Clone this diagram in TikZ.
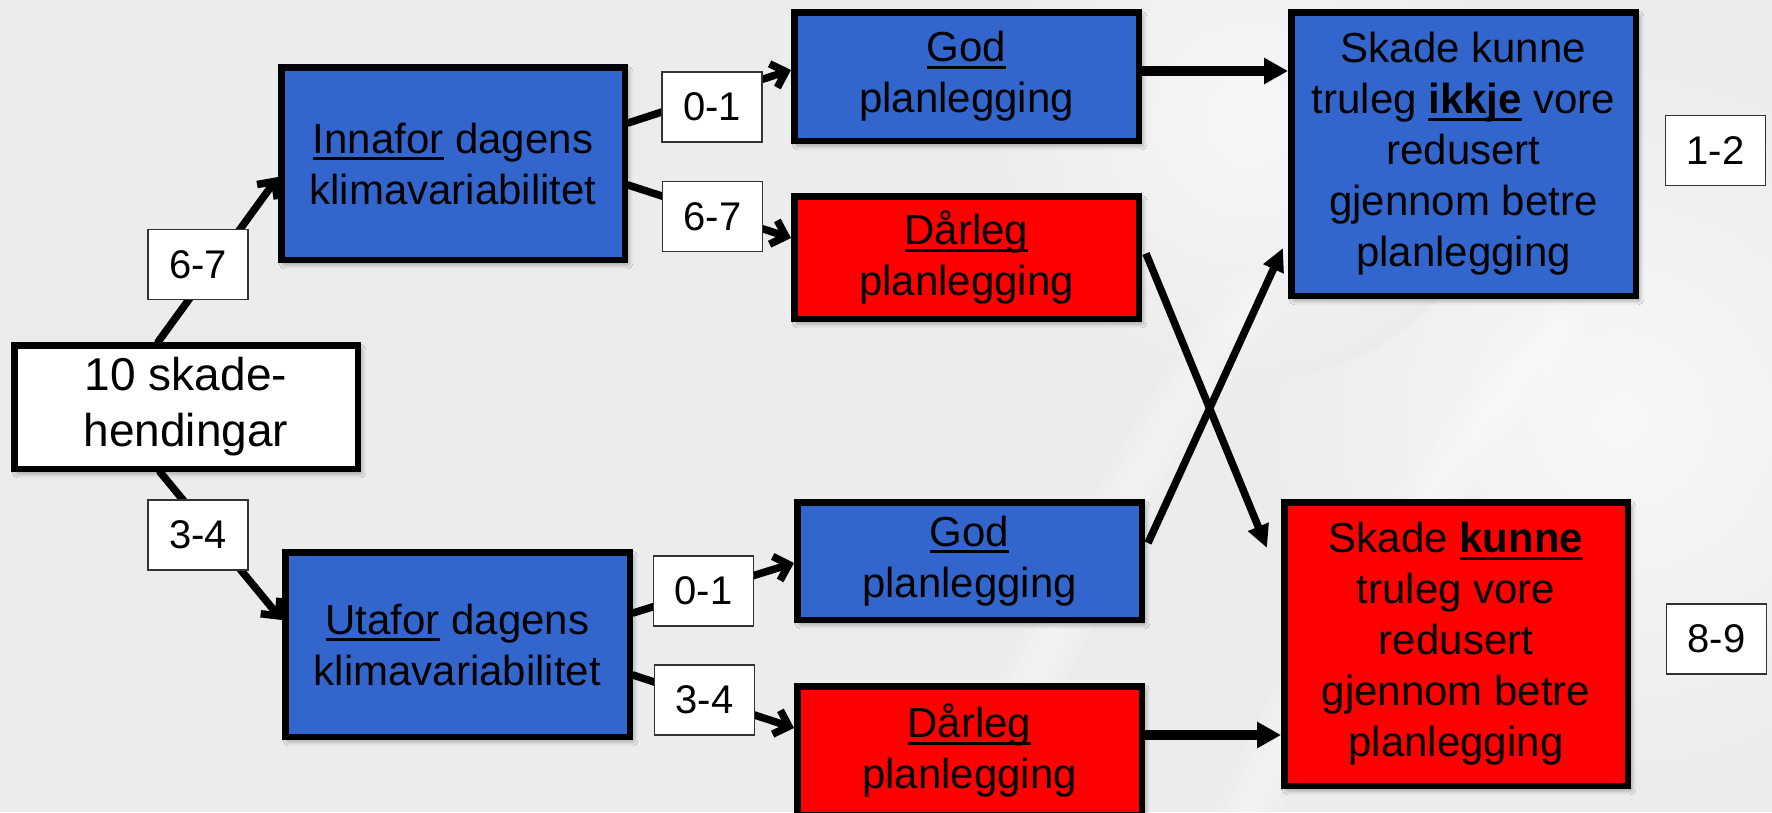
\documentclass[tikz,border=0pt]{standalone}
\usepackage{fontspec}
\setmainfont{Liberation Sans}
\usetikzlibrary{arrows.meta,calc,shadows.blur}

\definecolor{bg}{RGB}{236,236,236}
\definecolor{boxblue}{RGB}{51,102,204}
\definecolor{boxred}{RGB}{255,0,0}

% underline drawn through the descenders, as in presentation software
\newlength\ulwidth
\newcommand\ulword[1]{\settowidth\ulwidth{#1}\rlap{\rule[-7pt]{\ulwidth}{3pt}}#1}

\tikzset{
  box/.style={draw=black, line width=6.5pt, inner sep=0pt, align=center, text=black,
    font=\fontsize{42}{51}\selectfont,
    blur shadow={shadow xshift=3pt, shadow yshift=-4pt, shadow blur radius=5pt, shadow opacity=45}},
  bluebox/.style={box, fill=boxblue},
  redbox/.style={box, fill=boxred},
  count/.style={draw=black!80, line width=1.8pt, fill=white, inner sep=0pt,
    minimum width=100pt, minimum height=70pt, font=\fontsize{40}{48}\selectfont},
  branch/.style={line width=7.5pt, line cap=round, -{Straight Barb[length=13pt,width=25pt]}},
  cross/.style={line width=7.5pt, -{Triangle[length=23pt,width=21pt]}},
  thickarrow/.style={line width=9.5pt, -{Triangle[length=24pt,width=25pt]}},
  streak/.style={white, line cap=round, opacity=0.12},
}

\begin{document}
\begin{tikzpicture}[x=1pt, y=-1pt]
\useasboundingbox (0,0) rectangle (1772,812);
\clip (0,0) rectangle (1772,812);

% background with faint, soft light streaks
\fill[bg] (0,0) rectangle (1772,812);
\shade[inner color=white!60!bg, outer color=bg] (1620,420) circle (360pt);
\shade[inner color=white!55!bg, outer color=bg] (1250,120) circle (260pt);
\foreach \w in {60,42,26,14} {
  \draw[streak, line width=\w pt] (960,830) .. controls (1060,620) and (1150,440) .. (1250,300);
  \draw[streak, line width=\w pt] (1240,830) .. controls (1320,650) and (1420,480) .. (1560,330);
}

% boxes
\node[box, fill=white, minimum width=343.5pt, minimum height=123.5pt,
      font=\fontsize{46}{56}\selectfont] (start) at (186,407) {10 skade-\\hendingar};
\node[bluebox, minimum width=343.5pt, minimum height=192.5pt] (innafor) at (453,163.5)
  {\ulword{Innafor} dagens\\klimavariabilitet};
\node[bluebox, minimum width=344.5pt, minimum height=184.5pt] (utafor) at (457.5,644.5)
  {\ulword{Utafor} dagens\\klimavariabilitet};
\node[bluebox, minimum width=344.5pt, minimum height=128.5pt] (godA) at (966.5,76.5)
  {\ulword{God}\\planlegging};
\node[redbox, minimum width=344.5pt, minimum height=122.5pt] (darA) at (966.5,257.5)
  {\ulword{Dårleg}\\planlegging};
\node[bluebox, minimum width=344.5pt, minimum height=117.5pt] (godB) at (969.5,561)
  {\ulword{God}\\planlegging};
\node[redbox, minimum width=344.5pt, minimum height=128.5pt] (darB) at (969.5,750.5)
  {\ulword{Dårleg}\\planlegging};
\node[bluebox, minimum width=344.5pt, minimum height=283.5pt] (resA) at (1463.5,154)
  {Skade kunne\\truleg \ulword{\textbf{ikkje}} vore\\redusert\\gjennom betre\\planlegging};
\node[redbox, minimum width=343.5pt, minimum height=283.5pt] (resB) at (1456,644)
  {Skade \ulword{\textbf{kunne}}\\truleg vore\\redusert\\gjennom betre\\planlegging};

% branches
\draw[branch] ($(start.north)+(-28,0)$) -- ($(innafor.west)+(0,13.5)$);
\draw[branch] ($(start.south)+(-26,0)$) -- ($(utafor.west)+(0,-24.5)$);
\draw[branch] ($(innafor.east)+(0,-40.5)$) -- ($(godA.west)+(0,-6.5)$);
\draw[branch] ($(innafor.east)+(0,21.5)$) -- ($(darA.west)+(0,-19.5)$);
\draw[branch] ($(utafor.east)+(0,-31.5)$) -- ($(godB.west)+(0,2)$);
\draw[branch] ($(utafor.east)+(0,30.5)$) -- ($(darB.west)+(0,-22.5)$);

% outcomes
\draw[thickarrow] ($(godA.east)+(0,-5.5)$) coordinate (ga) -- (ga -| resA.west);
\draw[thickarrow] ($(darB.east)+(0,-15.5)$) coordinate (db) -- (db -| resB.west);
\draw[cross] ($(darA.east)+(4,-4)$) -- ($(resB.north west)+(-14,49)$);
\draw[cross] ($(godB.east)+(3,-18)$) -- ($(resA.south west)+(-5,-51)$);

% counts
\node[count] (c1) at (198,264.5) {6-7};
\node[count] (c2) at (198,535) {3-4};
\node[count] (c3) at (712,107) {0-1};
\node[count] (c4) at (712.5,216.5) {6-7};
\node[count] (c5) at (703.5,591) {0-1};
\node[count] (c6) at (704.5,700) {3-4};
\node[count] (c7) at (1715.5,150.5) {1-2};
\node[count] (c8) at (1716.5,639) {8-9};
\end{tikzpicture}
\end{document}
